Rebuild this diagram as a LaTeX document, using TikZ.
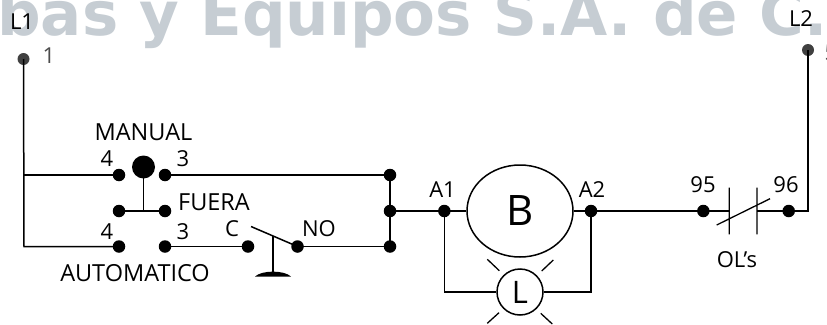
\documentclass[tikz,border=0pt]{standalone}
\usepackage{fontspec}
\usetikzlibrary{shapes.geometric}
\setmainfont{Open Sans}
\newfontfamily\wmfont{DejaVu Sans}
\begin{document}
\begin{tikzpicture}[x=1pt,y=-1pt,
  wire/.style={line width=1.5pt,draw=black,line join=miter},
  thin wire/.style={line width=1.3pt,draw=black},
  dot/.style={circle,fill=black,inner sep=0pt,minimum size=12.5pt},
  termdot/.style={circle,fill=black!75,inner sep=0pt,minimum size=12pt},
  lbl/.style={inner sep=0pt,font=\fontsize{22}{22}\selectfont},
  wide lbl/.style={inner sep=0pt,font=\fontsize{23.5}{23.5}\selectfont},
  watermark/.style={inner sep=0pt,anchor=base west,text=wmgray,font=\wmfont\bfseries\fontsize{61}{61}\selectfont}]
\definecolor{wmgray}{HTML}{C6CDD3}
\useasboundingbox (0,0) rectangle (827,324);
\clip (0,0) rectangle (827,324);
\node[watermark] (wm) at (-3,35) {bas y Equipos S.A. de C.};
% terminals
\node[termdot] (t1) at (23.5,59) {};
\node[termdot] (t5) at (808,50) {};
\coordinate (j1) at (24,175);
\coordinate (j2) at (24,246.5);
\coordinate (c96) at (808,211);
% selector
\node[dot] (m4) at (119,175) {};
\node[dot] (m3) at (165,175) {};
\node[dot] (f4) at (119,211) {};
\node[dot] (f3) at (165,211) {};
\node[dot] (a4) at (119,246.5) {};
\node[dot] (a3) at (165,246.5) {};
\node[circle,fill=black,inner sep=0pt,minimum size=23pt] (knob) at (143.5,167) {};
\coordinate (fm) at (143.5,211);
% pressure switch
\node[dot] (c) at (248,246.5) {};
\node[dot] (no) at (297.5,246.5) {};
\coordinate (arm) at (251,226.5);
\coordinate (stem) at (273,236);
\coordinate (stemb) at (273,276);
% bus
\node[dot] (b1) at (390,175) {};
\node[dot] (b2) at (390,211) {};
\node[dot] (b3) at (390,246.5) {};
% load
\node[dot] (a1) at (444.3,211) {};
\node[dot] (a2) at (591,211) {};
\node[circle,draw=black,line width=1.5pt,inner sep=0pt,minimum size=46pt,fill=white,font=\fontsize{31}{31}\selectfont] (lamp) at (520,292) {L};
\node[ellipse,draw=black,line width=1.5pt,inner sep=0pt,minimum width=106pt,minimum height=92pt,fill=white,font=\fontsize{42}{42}\selectfont] (coil) at (520,211) {B};
\coordinate (l1) at (444.3,292);
\coordinate (l2) at (591,292);
% overload
\node[dot] (o95) at (703.3,211) {};
\node[dot] (o96) at (788.7,211) {};
\coordinate (ca) at (729.3,211);
\coordinate (cb) at (757,211);
\coordinate (cat) at (729.3,187.7);
\coordinate (cab) at (729.3,234.3);
\coordinate (cbt) at (757,187.7);
\coordinate (cbb) at (757,234.3);
\coordinate (sa) at (716.7,225);
\coordinate (sb) at (770,198.7);
% wires
\draw[wire] (t1.center) -- (j2) -- (a4.center);
\draw[wire] (j1) -- (m4.center);
\draw[wire] (m3.center) -- (b1.center) -- (b3.center) -- (no.center);
\draw[wire] (a3.center) -- (c.center);
\draw[wire] (f4.center) -- (f3.center);
\draw[wire] (knob.center) -- (fm);
\draw[wire] (no.center) -- (arm);
\draw[wire] (stem) -- (stemb);
\fill (255,276.5) .. controls (262,270) and (284,270) .. (291,276.5) -- cycle;
\draw[wire] (b2.center) -- (a1.center) -- (coil.west);
\draw[wire] (coil.east) -- (a2.center) -- (o95.center) -- (ca);
\draw[wire] (a1.center) -- (l1) -- (lamp.west);
\draw[wire] (a2.center) -- (l2) -- (lamp.east);
\draw[wire] (cb) -- (o96.center) -- (c96) -- (t5.center);
\draw[thin wire] (cat) -- (cab) (cbt) -- (cbb) (sa) -- (sb);
% lamp rays
\draw[thin wire] (487.3,259.3) -- (499.3,270.7) (553.3,260) -- (541.7,271)
  (499,312.7) -- (487.3,323.3) (540.7,313.3) -- (552.3,324);
% labels
\node[lbl] (tl1) at (22,22) {L1};
\node[lbl,text=black!70] (tn1) at (49,56) {1};
\node[lbl] (tl2) at (801,19) {L2};
\node[lbl,text=black!70] (tn5) at (831,53) {5};
\node[wide lbl] (tman) at (143.5,132) {MANUAL};
\node[lbl] (tm4) at (107,159) {4};
\node[lbl] (tm3) at (183,159) {3};
\node[wide lbl] (tfu) at (214,202) {FUERA};
\node[lbl] (ta4) at (107,232) {4};
\node[lbl] (ta3) at (183,232) {3};
\node[lbl] (tc) at (232,229) {C};
\node[lbl] (tno) at (319,229) {NO};
\node[wide lbl] (tau) at (135,273) {AUTOMATICO};
\node[lbl] (ta1) at (442.5,190) {A1};
\node[lbl] (ta2) at (592,190) {A2};
\node[lbl] (t95) at (703,185) {95};
\node[lbl] (t96) at (786,185) {96};
\node[lbl] (tol) at (737,260) {OL’s};
\end{tikzpicture}
\end{document}
